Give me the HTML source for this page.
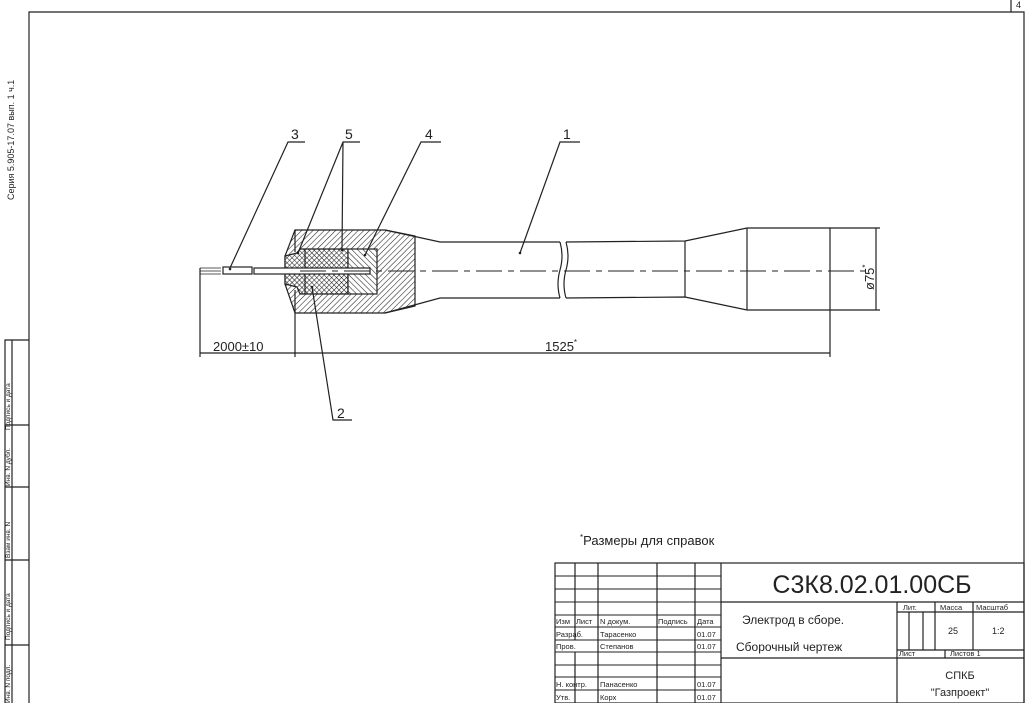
<!DOCTYPE html>
<html><head><meta charset="utf-8"><style>
html,body{margin:0;padding:0;background:#fff;}
svg{display:block;}
text{font-family:"Liberation Sans","DejaVu Sans",sans-serif;fill:#222;}
</style></head><body>
<svg width="1028" height="703" viewBox="0 0 1028 703" xmlns="http://www.w3.org/2000/svg">
<defs>
<pattern id="h1" patternUnits="userSpaceOnUse" width="4" height="4" patternTransform="rotate(45)">
<rect width="4" height="4" fill="#fff"/><line x1="0" y1="0" x2="0" y2="4" stroke="#222" stroke-width="1.1"/></pattern>
<pattern id="h2" patternUnits="userSpaceOnUse" width="4" height="4" patternTransform="rotate(-45)">
<rect width="4" height="4" fill="#fff"/><line x1="0" y1="0" x2="0" y2="4" stroke="#222" stroke-width="1.1"/></pattern>
<pattern id="hx" patternUnits="userSpaceOnUse" width="3.5" height="3.5" patternTransform="rotate(45)">
<rect width="3.5" height="3.5" fill="#fff"/><line x1="0" y1="0" x2="0" y2="3.5" stroke="#222" stroke-width="1.1"/><line x1="0" y1="0" x2="3.5" y2="0" stroke="#222" stroke-width="1.1"/></pattern>
</defs>
<g stroke="#222" fill="none" stroke-width="1.2">
<polyline points="29,703 29,12 1024,12 1024,703"/>
<line x1="1011" y1="0" x2="1011" y2="12"/>
<polyline points="29,340 5,340 5,703"/>
<line x1="12" y1="340" x2="12" y2="703"/>
<line x1="5" y1="425" x2="29" y2="425"/>
<line x1="5" y1="487" x2="29" y2="487"/>
<line x1="5" y1="560" x2="29" y2="560"/>
<line x1="5" y1="645" x2="29" y2="645"/>
<path d="M295,230 L385,230 L415,236 L415,306 L385,313 L295,313 L285,284 L285,256 Z" fill="url(#h1)"/>
<path d="M300,249 L348,249 L348,294 L300,294 L297,287 L285,284 L285,256 L297,253 Z" fill="url(#hx)"/>
<rect x="348" y="249" width="29" height="45" fill="url(#h2)"/>
<line x1="295" y1="230" x2="295" y2="252"/><line x1="295" y1="290" x2="295" y2="313"/>
<line x1="305" y1="249" x2="305" y2="294"/>
<path d="M385,230 L440,242 L560,242 M385,313 L440,298 L560,298"/>
<path d="M560,242 q4,14 0,28 q-4,14 0,28 M566,242 q4,14 0,28 q-4,14 0,28"/>
<path d="M566,242 L685,241 L747,228 L830,228 L830,310 L747,310 L685,297 L566,298"/>
<line x1="685" y1="241" x2="685" y2="297"/>
<line x1="747" y1="228" x2="747" y2="310"/>
<rect x="254" y="268" width="116" height="6" fill="#fff"/>
<rect x="223" y="267" width="29" height="7" fill="#fff"/>
<path d="M200,268 L221,268 M200,274 L221,274 M200,271 L221,271" stroke-width="0.8"/>
<line x1="300" y1="271" x2="866" y2="271" stroke-dasharray="26,6,6,6" stroke-width="0.9"/>
<line x1="200" y1="268" x2="200" y2="357"/>
<line x1="295" y1="313" x2="295" y2="357"/>
<line x1="830" y1="310" x2="830" y2="357"/>
<line x1="200" y1="353" x2="830" y2="353"/>
<line x1="830" y1="228" x2="880" y2="228"/><line x1="830" y1="310" x2="880" y2="310"/>
<line x1="876" y1="228" x2="876" y2="310"/>
<path d="M230,268 L288,142 L305,142"/>
<path d="M298,253 L343,142 L360,142 M343,142 L342,250"/>
<path d="M365,255 L421,142 L441,142"/>
<path d="M520,253 L560,142 L580,142"/>
<path d="M312,287 L333,420 L352,420"/>
<rect x="555" y="563" width="469" height="140"/>
<line x1="721" y1="563" x2="721" y2="703"/>
<line x1="575" y1="563" x2="575" y2="640"/><line x1="575" y1="652" x2="575" y2="703"/>
<line x1="598" y1="563" x2="598" y2="703"/>
<line x1="657" y1="563" x2="657" y2="703"/>
<line x1="695" y1="563" x2="695" y2="703"/>
<path d="M555,576 H721 M555,589 H721 M555,602 H721 M555,615 H721 M555,627 H721 M555,640 H721 M555,652 H721 M555,665 H721 M555,677 H721 M555,690 H721" stroke-width="0.9"/>
<line x1="721" y1="602" x2="1024" y2="602"/>
<line x1="897" y1="602" x2="897" y2="703"/>
<line x1="897" y1="612" x2="1024" y2="612"/>
<line x1="909" y1="612" x2="909" y2="650"/><line x1="923" y1="612" x2="923" y2="650"/>
<line x1="935" y1="602" x2="935" y2="650"/><line x1="973" y1="602" x2="973" y2="650"/>
<line x1="897" y1="650" x2="1024" y2="650"/>
<line x1="721" y1="658" x2="1024" y2="658"/>
<line x1="945" y1="650" x2="945" y2="658"/>
</g>
<g fill="#222" stroke="none">
<circle cx="230" cy="269" r="1.3"/><circle cx="298" cy="253" r="1.3"/><circle cx="342" cy="250" r="1.3"/>
<circle cx="365" cy="255" r="1.3"/><circle cx="520" cy="253" r="1.3"/><circle cx="312" cy="287" r="1.3"/>
</g>
<g font-size="14">
<text x="291" y="139">3</text><text x="345" y="139">5</text><text x="425" y="139">4</text><text x="563" y="139">1</text><text x="337" y="418">2</text>
<text x="213" y="351" font-size="13">2000±10</text>
<text x="545" y="351" font-size="13">1525<tspan font-size="8" dy="-6">*</tspan></text>
<text transform="translate(874,290) rotate(-90)" font-size="13">ø75<tspan font-size="8" dy="-6">*</tspan></text>
<text x="580" y="545" font-size="13"><tspan font-size="8" dy="-5">*</tspan><tspan dy="5">Размеры для справок</tspan></text>
<text x="1016" y="8" font-size="9">4</text>
</g>
<text transform="translate(14,200) rotate(-90)" font-size="9">Серия 5.905-17.07 вып. 1 ч.1</text>
<g font-size="6.5">
<text transform="translate(10,430) rotate(-90)">Подпись и дата</text>
<text transform="translate(10,486) rotate(-90)">Инв. N дубл.</text>
<text transform="translate(10,558) rotate(-90)">Взам инв. N</text>
<text transform="translate(10,640) rotate(-90)">Подпись и дата</text>
<text transform="translate(10,703) rotate(-90)">Инв. N подл.</text>
</g>
<g font-size="7.5">
<text x="556" y="624">Изм</text><text x="576" y="624">Лист</text><text x="600" y="624">N докум.</text><text x="658" y="624">Подпись</text><text x="697" y="624">Дата</text>
<text x="556" y="637">Разраб.</text><text x="600" y="637">Тарасенко</text><text x="697" y="637">01.07</text>
<text x="556" y="649">Пров.</text><text x="600" y="649">Степанов</text><text x="697" y="649">01.07</text>
<text x="556" y="687">Н. контр.</text><text x="600" y="687">Панасенко</text><text x="697" y="687">01.07</text>
<text x="556" y="700">Утв.</text><text x="600" y="700">Корх</text><text x="697" y="700">01.07</text>
<text x="903" y="610">Лит.</text><text x="940" y="610">Масса</text><text x="976" y="610">Масштаб</text>
<text x="899" y="656">Лист</text><text x="950" y="656">Листов 1</text>
</g>
<text x="872" y="593" font-size="25" text-anchor="middle" fill="#333">С3К8.02.01.00СБ</text>
<text x="742" y="624" font-size="12">Электрод в сборе.</text>
<text x="736" y="651" font-size="12">Сборочный чертеж</text>
<text x="948" y="634" font-size="9">25</text><text x="992" y="634" font-size="9">1:2</text>
<text x="960" y="679" font-size="11" text-anchor="middle">СПКБ</text>
<text x="960" y="696" font-size="11" text-anchor="middle">"Газпроект"</text>
</svg>
</body></html>
